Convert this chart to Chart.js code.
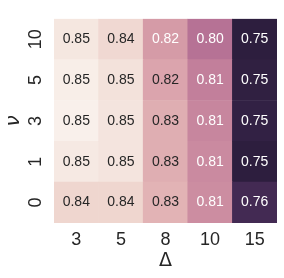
<!DOCTYPE html>
<html>
<head>
<meta charset="utf-8">
<script src="https://cdn.jsdelivr.net/npm/chart.js@4"></script>
<style>
  html, body { margin: 0; padding: 0; background: #fff; }
  #wrap { width: 284px; height: 278px; }
</style>
</head>
<body>
<div id="wrap"><canvas id="heat"></canvas></div>
<script>
// columns (Delta) and rows (nu), rows listed bottom to top
const deltaLabels = ['3', '5', '8', '10', '15'];
const nuLabels = ['0', '1', '3', '5', '10'];

// cell values per row, same order as nuLabels
const row0 = [0.842, 0.842, 0.828, 0.812, 0.757];
const row1 = [0.850, 0.848, 0.826, 0.811, 0.749];
const row3 = [0.853, 0.848, 0.826, 0.809, 0.751];
const row5 = [0.852, 0.847, 0.822, 0.806, 0.750];
const row10 = [0.849, 0.843, 0.818, 0.800, 0.749];
const rows = [row0, row1, row3, row5, row10];

const FONT = "'Liberation Sans', Arial, sans-serif";
const MATH = "'DejaVu Sans', sans-serif";

const allVals = rows.flat();
const vmin = Math.min(...allVals);
const vmax = Math.max(...allVals);

// seaborn-style cubehelix, low values dark
function cubehelix(x) {
  const start = 0, rot = 0.4, hue = 0.8;
  const a = hue * x * (1 - x) / 2;
  const phi = 2 * Math.PI * (start / 3 + rot * x);
  const c = Math.cos(phi), s = Math.sin(phi);
  const r = x + a * (-0.14861 * c + 1.78277 * s);
  const g = x + a * (-0.29227 * c - 0.90649 * s);
  const b = x + a * (1.97294 * c);
  return [r, g, b].map(v => Math.round(Math.min(1, Math.max(0, v)) * 255));
}
function cellRgb(v) {
  const t = (v - vmin) / (vmax - vmin);
  return cubehelix(0.15 + t * (0.95 - 0.15));
}
function lum(rgb) {
  const lin = rgb.map(c => {
    c = c / 255;
    return c <= 0.03928 ? c / 12.92 : Math.pow((c + 0.055) / 1.055, 2.4);
  });
  return 0.2126 * lin[0] + 0.7152 * lin[1] + 0.0722 * lin[2];
}

const datasets = rows.map((r, i) => ({
  label: nuLabels[i],
  data: r.map(() => 1),
  vals: r,
  backgroundColor: r.map(v => 'rgb(' + cellRgb(v).join(',') + ')'),
  borderWidth: 0,
  barPercentage: 1,
  categoryPercentage: 1
}));

const annotate = {
  id: 'annotate',
  afterDatasetsDraw(chart) {
    const ctx = chart.ctx;
    ctx.save();
    ctx.font = '14px ' + FONT;
    ctx.textAlign = 'center';
    ctx.textBaseline = 'middle';
    chart.data.datasets.forEach((ds, di) => {
      chart.getDatasetMeta(di).data.forEach((bar, j) => {
        const v = ds.vals[j];
        ctx.fillStyle = lum(cellRgb(v)) < 0.408 ? '#ffffff' : '#262626';
        ctx.fillText(v.toFixed(2), bar.x, (bar.y + bar.base) / 2);
      });
    });
    ctx.restore();
  }
};

new Chart(document.getElementById('heat'), {
  type: 'bar',
  data: { labels: deltaLabels, datasets: datasets },
  options: {
    responsive: true,
    maintainAspectRatio: false,
    animation: false,
    layout: { padding: { top: 7, right: 7, left: 0, bottom: 0 } },
    plugins: { legend: { display: false }, tooltip: { enabled: false } },
    scales: {
      x: {
        stacked: true,
        grid: { display: false, drawTicks: false },
        border: { display: false },
        ticks: { color: '#262626', font: { family: FONT, size: 18 }, padding: 6 },
        title: { display: true, text: 'Δ', color: '#262626', font: { family: MATH, size: 19 }, padding: { top: 0, bottom: 6 } },
        afterFit(scale) { scale.height = 55; }
      },
      y: {
        stacked: true,
        min: 0,
        max: 5,
        grid: { display: false, drawTicks: false },
        border: { display: false },
        afterBuildTicks(scale) {
          scale.ticks = nuLabels.map((_, i) => ({ value: i + 0.5 }));
        },
        ticks: {
          color: '#262626',
          font: { family: FONT, size: 18 },
          minRotation: 90,
          maxRotation: 90,
          crossAlign: 'center',
          padding: 8,
          callback: (value) => nuLabels[Math.floor(value)]
        },
        title: { display: true, text: 'ν', color: '#262626', font: { family: MATH, size: 20, style: 'italic' }, padding: { top: 2, bottom: 0 } },
        afterFit(scale) { scale.width = 54; }
      }
    }
  },
  plugins: [annotate]
});
</script>
</body>
</html>
